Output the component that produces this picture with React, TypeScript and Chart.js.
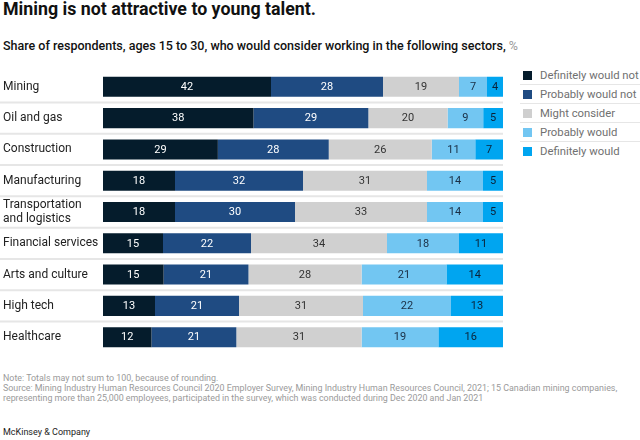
import React, { useEffect, useRef } from "react";
import { Chart, registerables } from "chart.js";

Chart.register(...registerables);

const categories: (string | string[])[] = [
  "Mining",
  "Oil and gas",
  "Construction",
  "Manufacturing",
  ["Transportation", "and logistics"],
  "Financial services",
  "Arts and culture",
  "High tech",
  "Healthcare",
];

const seriesNames = [
  "Definitely would not",
  "Probably would not",
  "Might consider",
  "Probably would",
  "Definitely would",
];

const definitelyNot = [42, 38, 29, 18, 18, 15, 15, 13, 12];
const probablyNot = [28, 29, 28, 32, 30, 22, 21, 21, 21];
const mightConsider = [19, 20, 26, 31, 33, 34, 28, 31, 31];
const probablyWould = [7, 9, 11, 14, 14, 18, 21, 22, 19];
const definitelyWould = [4, 5, 7, 5, 5, 11, 14, 13, 16];

const seriesValues = [definitelyNot, probablyNot, mightConsider, probablyWould, definitelyWould];

const barColors = ["#051c2c", "#1f4b82", "#d0d0d0", "#72c6f2", "#00a5f0"];
const legendColors = ["#051c2c", "#1f4b82", "#cfcfcf", "#72c6f2", "#00a5f0"];
const labelColors = ["#ffffff", "#ffffff", "#333333", "#1a2e44", "#0b2238"];

const FONT = "Roboto, 'Liberation Sans', sans-serif";

export default function App() {
  const canvasRef = useRef<HTMLCanvasElement | null>(null);

  useEffect(() => {
    if (!canvasRef.current) return;
    const rowTotals = categories.map((_, i) =>
      seriesValues.reduce((s, arr) => s + arr[i], 0)
    );

    const separatorPlugin = {
      id: "rowSeparators",
      beforeDatasetsDraw(chart: any) {
        const { ctx, chartArea } = chart;
        const y = chart.scales.y;
        ctx.save();
        ctx.strokeStyle = "#e6e6e6";
        ctx.lineWidth = 2;
        for (let i = 0; i < categories.length - 1; i++) {
          const yy = (y.getPixelForValue(i) + y.getPixelForValue(i + 1)) / 2;
          ctx.beginPath();
          ctx.moveTo(0, yy);
          ctx.lineTo(chartArea.right, yy);
          ctx.stroke();
        }
        ctx.restore();
      },
    };

    const valueLabelPlugin = {
      id: "valueLabels",
      afterDatasetsDraw(chart: any) {
        const { ctx } = chart;
        ctx.save();
        ctx.font = `11px ${FONT}`;
        ctx.textAlign = "center";
        ctx.textBaseline = "middle";
        chart.data.datasets.forEach((ds: any, di: number) => {
          const meta = chart.getDatasetMeta(di);
          meta.data.forEach((bar: any, i: number) => {
            const x = (bar.x + bar.base) / 2;
            ctx.fillStyle = labelColors[di];
            ctx.fillText(String(seriesValues[di][i]), x, bar.y + 0.5);
          });
        });
        ctx.restore();
      },
    };

    const chart = new Chart(canvasRef.current, {
      type: "bar",
      data: {
        labels: categories,
        datasets: seriesNames.map((name, di) => ({
          label: name,
          data: seriesValues[di].map((v, i) => (v / rowTotals[i]) * 100),
          backgroundColor: barColors[di],
          borderWidth: 0,
          barPercentage: 0.64,
          categoryPercentage: 1,
        })),
      },
      options: {
        indexAxis: "y",
        animation: false,
        responsive: false,
        maintainAspectRatio: false,
        layout: { padding: { left: 3, right: 0, top: 0, bottom: 0 } },
        plugins: {
          legend: { display: false },
          tooltip: { enabled: false },
        },
        scales: {
          x: {
            stacked: true,
            min: 0,
            max: 100,
            display: false,
          },
          y: {
            stacked: true,
            grid: { display: false },
            border: { display: false },
            ticks: {
              crossAlign: "far",
              color: "#222222",
              font: { family: FONT, size: 12 },
              padding: 0,
            },
            afterFit(scale: any) {
              scale.width = 100;
            },
          },
        },
      },
      plugins: [separatorPlugin, valueLabelPlugin],
    });
    return () => chart.destroy();
  }, []);

  return (
    <div
      style={{
        position: "fixed",
        left: 0,
        top: 0,
        width: 640,
        height: 440,
        background: "#ffffff",
        fontFamily: FONT,
        overflow: "hidden",
      }}
    >
      <div
        style={{
          position: "absolute",
          left: 3,
          top: 0,
          fontSize: 17.8,
          lineHeight: "17px",
          fontWeight: 700,
          color: "#111111",
          whiteSpace: "nowrap",
        }}
      >
        Mining is not attractive to young talent.
      </div>
      <div
        style={{
          position: "absolute",
          left: 3,
          top: 40,
          fontSize: 12.5,
          lineHeight: "12px",
          fontWeight: 500,
          color: "#111111",
          whiteSpace: "nowrap",
        }}
      >
        Share of respondents, ages 15 to 30, who would consider working in the following sectors,{" "}
        <span style={{ color: "#9a9a9a", fontWeight: 400 }}>%</span>
      </div>
      <canvas
        ref={canvasRef}
        width={503}
        height={296}
        style={{ position: "absolute", left: 0, top: 64, width: 503, height: 296 }}
      />
      <div style={{ position: "absolute", left: 520, top: 66, width: 120 }}>
        {seriesNames.map((name, i) => (
          <div
            key={name}
            style={{
              position: "relative",
              height: 18,
              borderBottom: i < seriesNames.length - 1 ? "1px solid #e6e6e6" : "none",
            }}
          >
            <div
              style={{
                position: "absolute",
                left: 3,
                top: 5,
                width: 9,
                height: 9,
                background: legendColors[i],
              }}
            />
            <div
              style={{
                position: "absolute",
                left: 20,
                top: 3,
                fontSize: 11.3,
                lineHeight: "13px",
                color: "#707070",
                whiteSpace: "nowrap",
              }}
            >
              {name}
            </div>
          </div>
        ))}
      </div>
      <div
        style={{
          position: "absolute",
          left: 3,
          top: 373,
          fontSize: 8.9,
          lineHeight: "10px",
          color: "#9a9a9a",
          whiteSpace: "nowrap",
        }}
      >
        <div>Note: Totals may not sum to 100, because of rounding.</div>
        <div>
          Source: Mining Industry Human Resources Council 2020 Employer Survey, Mining Industry Human Resources Council, 2021; 15 Canadian mining companies,
        </div>
        <div>
          representing more than 25,000 employees, participated in the survey, which was conducted during Dec 2020 and Jan 2021
        </div>
      </div>
      <div
        style={{
          position: "absolute",
          left: 3,
          top: 427,
          fontSize: 9,
          lineHeight: "10px",
          color: "#222222",
          whiteSpace: "nowrap",
        }}
      >
        McKinsey &amp; Company
      </div>
    </div>
  );
}
